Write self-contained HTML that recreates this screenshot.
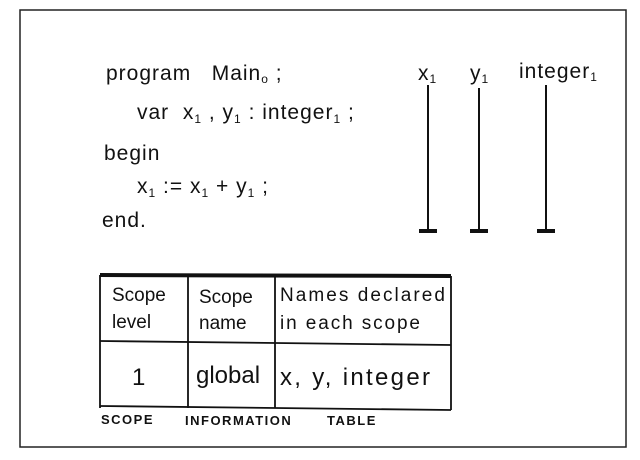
<!DOCTYPE html>
<html><head><meta charset="utf-8"><style>
html,body{margin:0;padding:0;background:#fff;}
svg{display:block}
text{font-family:"Liberation Sans",sans-serif;fill:#111;}
</style></head><body>
<svg width="640" height="460" viewBox="0 0 640 460">
<rect x="20" y="10" width="606" height="437" fill="none" stroke="#222" stroke-width="1.5"/>
<g font-size="21" letter-spacing="1">
<text x="106" y="80">program&#160;&#160;&#160;Main<tspan font-size="12" dy="3">o</tspan><tspan dy="-3">&#160;;</tspan></text>
<text x="137" y="119">var&#160;&#160;x<tspan font-size="12" dy="4">1</tspan><tspan dy="-4">&#160;,&#160;y</tspan><tspan font-size="12" dy="4">1</tspan><tspan dy="-4">&#160;:&#160;integer</tspan><tspan font-size="12" dy="4">1</tspan><tspan dy="-4">&#160;;</tspan></text>
<text x="104" y="160">begin</text>
<text x="137" y="193">x<tspan font-size="12" dy="4">1</tspan><tspan dy="-4">&#160;:=&#160;x</tspan><tspan font-size="12" dy="4">1</tspan><tspan dy="-4">&#160;+&#160;y</tspan><tspan font-size="12" dy="4">1</tspan><tspan dy="-4">&#160;;</tspan></text>
<text x="102" y="227">end.</text>
<text x="418" y="80">x<tspan font-size="12" dy="3">1</tspan></text>
<text x="470" y="80">y<tspan font-size="12" dy="3">1</tspan></text>
<text x="519" y="78">integer<tspan font-size="12" dy="3">1</tspan></text>
</g>
<g stroke="#111" stroke-width="2">
<line x1="428" y1="85" x2="428" y2="230"/>
<line x1="479" y1="88" x2="479" y2="230"/>
<line x1="546" y1="85" x2="546" y2="230"/>
</g>
<g stroke="#111" stroke-width="4">
<line x1="419" y1="231" x2="437" y2="231"/>
<line x1="470" y1="231" x2="488" y2="231"/>
<line x1="537" y1="231" x2="555" y2="231"/>
</g>
<line x1="100" y1="275" x2="451" y2="276" stroke="#111" stroke-width="4"/>
<g stroke="#111" stroke-width="1.8" fill="none">
<line x1="100" y1="275" x2="100" y2="408"/>
<line x1="451" y1="276" x2="451" y2="410"/>
<line x1="188" y1="276" x2="188" y2="408"/>
<line x1="275" y1="276" x2="275" y2="408"/>
<line x1="100" y1="341" x2="451" y2="345"/>
<line x1="100" y1="406" x2="451" y2="410"/>
</g>
<g font-size="19">
<text x="112" y="301">Scope</text>
<text x="112" y="328">level</text>
<text x="199" y="303">Scope</text>
<text x="199" y="329">name</text>
<text x="280" y="301" textLength="165">Names declared</text>
<text x="280" y="329" textLength="140">in each scope</text>
</g>
<g font-size="24">
<text x="132" y="385">1</text>
<text x="196" y="383">global</text>
<text x="280" y="385" textLength="150">x, y, integer</text>
</g>
<g font-size="13" font-weight="bold" letter-spacing="1.5">
<text x="101" y="424">SCOPE</text>
<text x="185" y="425">INFORMATION</text>
<text x="327" y="425">TABLE</text>
</g>
</svg>
</body></html>
